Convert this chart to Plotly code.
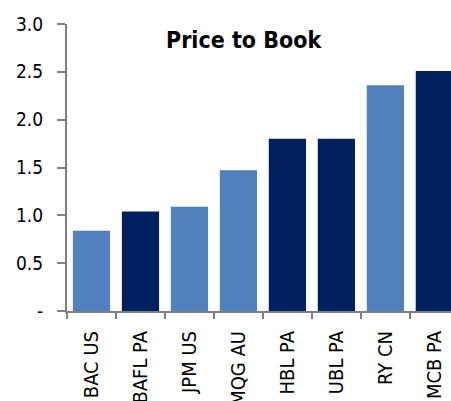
import plotly.graph_objects as go

categories = ["BAC US", "BAFL PA", "JPM US", "MQG AU", "HBL PA", "UBL PA", "RY CN", "MCB PA"]
values = [0.84, 1.04, 1.09, 1.47, 1.80, 1.80, 2.36, 2.51]
bar_colors = ["#4F81BD", "#002060", "#4F81BD", "#4F81BD", "#002060", "#002060", "#4F81BD", "#002060"]
y_tickvals = [0, 0.5, 1.0, 1.5, 2.0, 2.5, 3.0]
y_ticktext = ["-", "0.5", "1.0", "1.5", "2.0", "2.5", "3.0"]
title_text = "Price to Book"

FONT = "DejaVu Sans Condensed, Liberation Sans Narrow, Arial Narrow, sans-serif"

fig = go.Figure(go.Bar(
    x=categories, y=values,
    marker=dict(color=bar_colors, line=dict(width=0)),
))

W, H = 451, 401
ml, mr, mt, mb = 67, 0, 24, 90
fig.update_layout(
    width=W, height=H,
    margin=dict(l=ml, r=mr, t=mt, b=mb, pad=0, autoexpand=False),
    plot_bgcolor="white", paper_bgcolor="white",
    bargap=0.24,
    showlegend=False,
    font=dict(family=FONT, size=18, color="#000000"),
    annotations=[dict(
        text="<b>" + title_text + "</b>",
        x=(244 - ml) / (W - ml - mr), xref="paper", xanchor="center",
        y=1 - (40 - mt) / (H - mt - mb), yref="paper", yanchor="middle",
        showarrow=False, font=dict(family=FONT, size=23, color="#000000"),
    )],
)
fig.update_xaxes(
    range=[-0.5, 7.34], automargin=False,
    showline=True, linecolor="#808080", linewidth=2,
    ticks="outside", ticklen=6, tickcolor="#808080", tickwidth=2,
    tickson="boundaries",
    tickangle=-90, ticklabelstandoff=10,
    showgrid=False, zeroline=False,
    tickfont=dict(family=FONT, size=20),
)
fig.update_yaxes(
    range=[0, 3], automargin=False,
    tickvals=y_tickvals, ticktext=y_ticktext,
    showline=True, linecolor="#808080", linewidth=2,
    ticks="outside", ticklen=8, tickcolor="#808080", tickwidth=2,
    ticklabelstandoff=10,
    showgrid=False, zeroline=False,
    tickfont=dict(family=FONT, size=19),
)

fig.write_html("out.html", config={"displayModeBar": False},
               post_script="document.body.style.margin='0';document.body.style.overflow='hidden';")
